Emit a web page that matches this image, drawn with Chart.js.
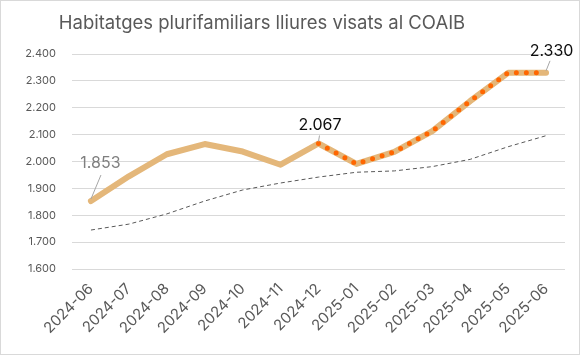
<!DOCTYPE html>
<html>
<head>
<meta charset="utf-8">
<script src="https://cdn.jsdelivr.net/npm/chart.js@4"></script>
<style>
html,body{margin:0;padding:0;background:#fff;}
#wrap{position:absolute;left:0;top:0;width:578px;height:353px;border:1px solid #d9d9d9;background:#fff;}
canvas{display:block;}
</style>
</head>
<body>
<div id="wrap"><canvas id="c" width="578" height="353"></canvas></div>
<script>
const categories = ["2024-06","2024-07","2024-08","2024-09","2024-10","2024-11","2024-12","2025-01","2025-02","2025-03","2025-04","2025-05","2025-06"];
const visats = [1853,1945,2027,2065,2037,1988,2067,1991,2036,2113,2225,2330,2330];
const projeccio = [null,null,null,null,null,null,2067,1991,2036,2113,2225,2330,2330];
const tendencia = [1745,1767,1805,1853,1894,1920,1942,1960,1965,1981,2008,2055,2096];
const labelIndexes = [0,6,12];
const titleText = 'Habitatges plurifamiliars lliures visats al COAIB';
const yMin = 1600, yMax = 2400, yStep = 100;
const FONT = 'Inter, "Liberation Sans", sans-serif';

function fmt(v){ return String(Math.round(v)).replace(/\B(?=(\d{3})+(?!\d))/g,'.'); }

const labelPlugin = {
  id:'pointLabels',
  afterDatasetsDraw(chart){
    const ctx = chart.ctx;
    const meta = chart.getDatasetMeta(1);
    const cfg = {
      0:{dx:9.5,dy:-38,color:'#7f7f7f',l:[10,-26,0,-2]},
      6:{dx:1.5,dy:-18,color:'#0d0d0d',l:[1,-8,0,-2]},
      12:{dx:5.5,dy:-22,color:'#0d0d0d',l:[4,-12,0,-2]}
    };
    ctx.save();
    ctx.font = '16px ' + FONT;
    ctx.textAlign = 'center';
    ctx.textBaseline = 'middle';
    labelIndexes.forEach(i=>{
      const p = meta.data[i];
      const c = cfg[i];
      ctx.strokeStyle = '#a6a6a6';
      ctx.lineWidth = 1;
      ctx.beginPath();
      ctx.moveTo(p.x + c.l[0], p.y + c.l[1]);
      ctx.lineTo(p.x + c.l[2], p.y + c.l[3]);
      ctx.stroke();
      ctx.fillStyle = c.color;
      ctx.fillText(fmt(visats[i]), p.x + c.dx, p.y + c.dy);
    });
    ctx.restore();
  },
  afterDraw(chart){
    const ctx = chart.ctx;
    ctx.save();
    ctx.font = '18.5px ' + FONT;
    ctx.fillStyle = '#595959';
    ctx.textAlign = 'center';
    ctx.textBaseline = 'middle';
    ctx.fillText(titleText, 261, 22);
    ctx.restore();
  }
};

new Chart(document.getElementById('c'), {
  type:'line',
  data:{
    labels:categories,
    datasets:[
      {data:tendencia,borderColor:'#595959',borderWidth:1,borderDash:[4,3],pointRadius:0,tension:0,order:3},
      {data:visats,borderColor:'#e4b77a',borderWidth:6,pointRadius:0,tension:0,borderJoinStyle:'round',borderCapStyle:'round',order:2},
      {data:projeccio,borderColor:'#ff6600',borderWidth:5,borderDash:[0,10],borderCapStyle:'round',pointRadius:0,tension:0,spanGaps:false,order:1}
    ]
  },
  options:{
    responsive:false,
    animation:false,
    layout:{padding:{left:0,right:14,top:53,bottom:0}},
    plugins:{
      legend:{display:false},
      tooltip:{enabled:false},
      title:{display:false}
    },
    scales:{
      x:{
        offset:true,
        grid:{display:false},
        border:{display:false},
        ticks:{color:'#595959',font:{family:FONT,size:15},minRotation:45,maxRotation:45,padding:3},
        afterFit(s){ s.height = 85; }
      },
      y:{
        min:yMin,max:yMax,
        grid:{color:'#d9d9d9',drawTicks:false},
        border:{display:false},
        ticks:{stepSize:yStep,color:'#595959',font:{family:FONT,size:11},padding:16,callback:v=>fmt(v)},
        afterFit(s){ s.width = 71; }
      }
    }
  },
  plugins:[labelPlugin]
});
</script>
</body>
</html>
